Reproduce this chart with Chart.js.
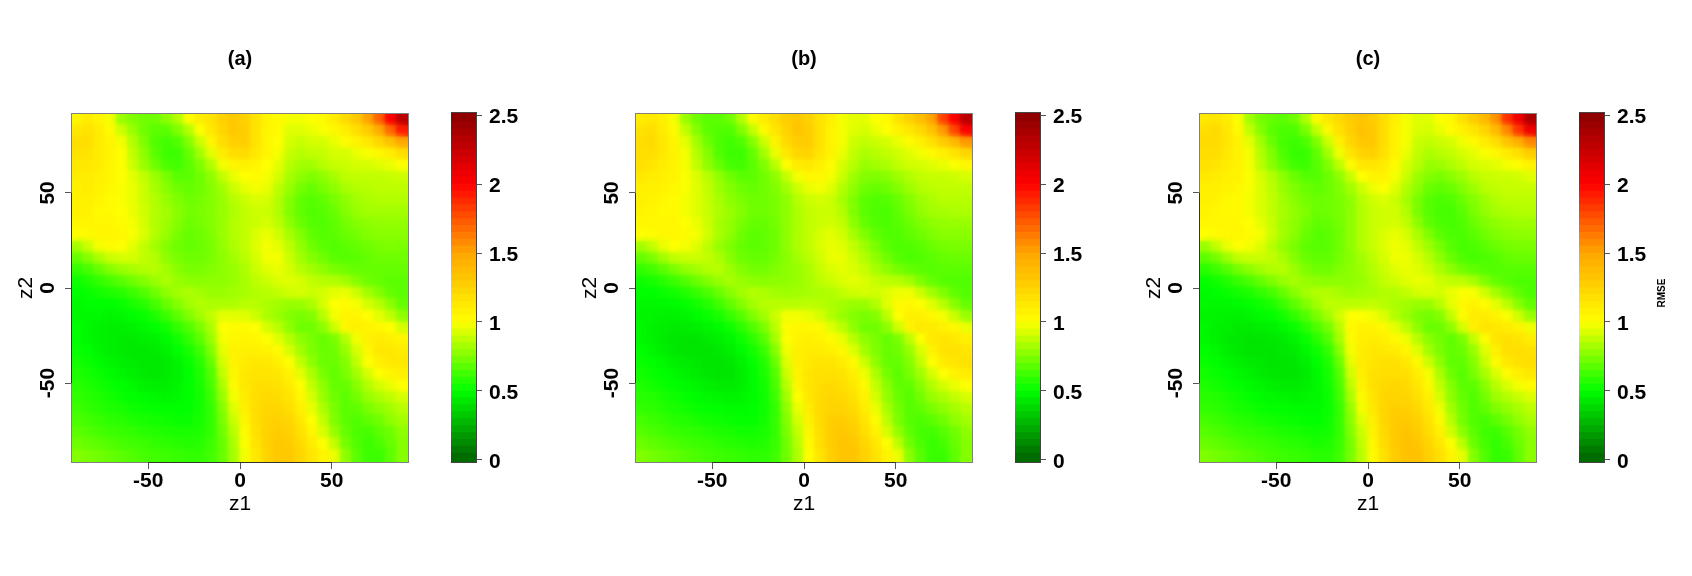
<!DOCTYPE html>
<html><head><meta charset="utf-8">
<script src="https://cdn.jsdelivr.net/npm/chart.js@4"></script>
<style>html,body{margin:0;padding:0;background:#fff;width:1692px;height:576px;overflow:hidden}canvas{position:absolute;top:0}</style>
</head><body>
<script>
const zCenters=[-88.45,-82.35,-76.25,-70.15,-64.05,-57.95,-51.85,-45.75,-39.65,-33.55,-27.45,-21.35,-15.25,-9.15,-3.05,3.05,9.15,15.25,21.35,27.45,33.55,39.65,45.75,51.85,57.95,64.05,70.15,76.25,82.35,88.45];
const tickValues=[-50,0,50];
const barTicks=[0,0.5,1,1.5,2,2.5];
const barTops=[0.05,0.1,0.15,0.2,0.25,0.3,0.35,0.4,0.45,0.5,0.55,0.6,0.65,0.7,0.75,0.8,0.85,0.9,0.95,1,1.05,1.1,1.15,1.2,1.25,1.3,1.35,1.4,1.45,1.5,1.55,1.6,1.65,1.7,1.75,1.8,1.85,1.9,1.95,2,2.05,2.1,2.15,2.2,2.25,2.3,2.35,2.4,2.45,2.52];
// RMSE x 100, top row (z2 = +88) first, z1 from left to right
const rmseA=[
[105,110,105,98,80,75,72,72,78,85,100,110,115,125,130,125,115,105,102,98,98,100,102,110,120,130,150,170,200,230],
[112,115,110,102,90,80,72,68,68,75,85,100,112,122,130,128,115,105,102,94,94,96,99,104,109,118,128,145,168,192],
[118,118,110,105,98,85,75,66,63,66,76,90,105,118,126,126,115,105,100,92,89,92,92,96,101,106,112,122,133,148],
[115,115,110,105,100,88,78,68,62,62,70,82,95,110,118,120,112,105,98,89,86,88,89,92,92,96,99,104,109,118],
[112,112,110,105,100,90,80,72,65,63,68,75,85,98,105,108,105,100,95,86,82,82,86,89,90,92,92,94,96,100],
[110,110,108,105,100,95,88,81,74,68,68,72,78,88,96,100,102,98,92,83,78,75,78,83,87,88,88,88,89,90],
[108,110,106,104,99,96,90,83,77,72,70,72,76,82,90,95,98,96,87,80,73,70,74,78,83,85,86,87,87,87],
[108,108,105,102,99,96,90,85,80,75,72,73,76,80,86,90,93,92,85,76,69,67,69,74,78,82,84,85,85,85],
[108,106,103,102,100,96,91,85,82,77,73,74,76,80,84,88,90,90,85,75,69,66,67,71,76,80,82,82,82,82],
[105,105,104,104,102,98,92,85,81,76,72,73,76,80,85,88,90,92,87,78,71,67,66,69,73,76,78,79,79,79],
[100,103,105,105,104,99,93,85,80,74,70,72,75,80,85,88,93,96,91,83,76,69,67,68,71,73,76,77,77,77],
[82,90,98,102,100,95,88,82,76,72,70,71,74,79,84,88,94,98,95,87,79,72,68,66,68,70,72,74,75,74],
[70,76,84,90,92,92,88,85,78,74,72,72,74,78,82,86,92,98,98,90,82,76,72,68,67,68,70,72,72,72],
[60,64,70,76,80,83,85,86,82,77,74,74,76,78,80,84,90,94,96,92,86,82,78,74,72,70,70,70,70,70],
[53,56,60,64,68,72,76,80,84,80,78,77,78,78,80,83,87,90,93,94,92,88,86,85,82,76,72,70,68,68],
[50,52,54,56,58,62,66,72,78,82,84,82,80,80,82,83,85,86,88,91,92,90,92,95,96,90,82,76,70,68],
[48,50,50,50,52,55,58,64,70,76,82,85,84,84,84,86,86,84,82,80,80,84,92,100,102,98,92,86,78,70],
[48,48,48,47,48,50,52,56,62,68,75,82,88,95,95,94,90,84,80,76,74,76,86,98,105,105,100,95,88,78],
[50,48,46,45,45,46,48,50,54,60,66,74,84,100,102,102,100,92,86,78,72,72,78,90,104,108,106,104,100,92],
[50,48,46,45,44,44,45,46,49,54,60,68,80,98,104,105,104,100,94,86,78,74,70,74,85,98,108,110,108,105],
[52,50,47,45,44,43,43,44,46,50,55,62,75,95,106,108,108,106,102,92,82,75,71,72,80,92,104,112,112,110],
[54,52,49,47,45,44,43,43,44,47,52,58,70,92,106,110,112,112,108,100,88,78,71,71,76,88,100,108,112,112],
[56,54,52,49,47,45,44,43,44,46,50,56,66,88,105,112,114,114,113,106,95,84,74,69,74,82,92,100,105,108],
[58,56,54,52,50,48,46,45,45,47,50,55,64,84,102,112,116,118,116,110,100,88,78,70,70,77,85,92,96,100],
[60,58,56,54,52,50,49,48,47,48,50,54,62,80,98,110,118,120,119,114,104,92,80,72,68,73,80,84,88,92],
[62,60,58,56,55,53,52,51,50,50,51,54,60,76,94,108,118,122,122,118,108,96,84,74,68,69,74,78,82,86],
[65,63,61,59,58,56,55,54,53,52,52,55,60,74,90,105,118,124,125,122,112,100,88,75,68,66,69,72,78,82],
[68,66,64,62,61,60,58,57,56,55,55,56,60,72,86,102,116,125,128,125,116,105,93,80,70,65,64,68,72,78],
[72,70,68,66,64,63,62,60,59,58,57,58,62,70,84,100,115,125,130,128,120,110,100,88,73,66,62,65,70,76],
[76,74,72,70,68,66,64,63,62,61,60,60,63,70,82,98,112,124,130,130,123,114,106,96,78,68,62,62,68,76]];
const rmseB=[
[110,112,108,98,80,72,68,68,72,85,102,110,118,127,130,125,115,108,98,95,95,100,103,115,125,135,150,180,200,230],
[115,118,110,102,88,76,68,66,66,75,88,102,114,124,132,128,116,106,98,94,92,96,100,106,112,121,133,153,178,202],
[118,120,112,105,95,82,72,65,63,66,76,90,106,120,128,128,116,106,98,90,88,90,92,96,102,108,116,128,138,153],
[118,118,112,106,98,85,76,66,62,62,70,82,96,112,122,124,114,106,96,88,84,86,88,91,94,98,102,108,114,123],
[116,114,110,106,98,88,78,70,64,63,68,75,86,100,110,112,108,102,92,86,80,82,84,88,91,92,94,96,99,104],
[112,110,108,106,99,93,86,79,72,68,68,72,78,88,98,104,104,98,90,81,76,75,77,81,85,88,89,89,90,92],
[108,108,106,104,99,94,88,81,76,72,70,72,75,82,90,96,98,94,85,78,72,70,72,76,81,85,87,88,88,88],
[108,106,104,102,98,94,89,83,78,74,72,72,74,78,86,90,92,90,83,75,68,66,67,71,76,81,84,86,86,86],
[106,104,103,102,98,94,89,84,80,76,72,72,74,78,84,88,90,90,85,75,68,65,65,69,74,79,82,83,84,84],
[104,104,104,104,100,96,90,83,79,74,70,70,73,78,84,88,90,91,88,78,70,66,65,67,71,75,78,79,80,80],
[100,102,104,104,102,98,91,83,78,72,68,69,72,78,84,88,92,95,91,83,75,69,66,66,69,72,75,77,77,77],
[82,88,96,100,98,94,87,80,75,70,68,69,72,78,84,88,93,96,94,88,81,74,68,65,66,68,71,73,74,74],
[70,74,82,88,90,90,88,84,77,72,70,70,73,77,82,86,91,96,96,91,85,78,72,67,65,66,68,70,71,71],
[60,63,68,74,79,82,85,86,81,76,73,73,75,78,80,84,89,93,95,93,89,83,78,73,70,68,67,68,68,68],
[53,55,58,62,66,71,76,80,83,80,78,77,78,78,80,83,87,90,93,95,93,89,87,86,82,75,70,67,66,66],
[50,50,52,54,57,61,65,71,77,82,85,84,82,81,82,83,84,85,88,91,92,91,94,97,97,90,82,75,69,66],
[48,48,48,49,51,54,57,63,69,76,82,86,86,86,86,87,86,84,82,80,80,85,94,103,104,100,94,86,77,70],
[47,47,46,46,47,49,52,55,61,67,75,82,90,98,98,96,92,85,80,76,74,76,87,100,108,108,104,98,90,80],
[48,46,45,44,44,45,47,49,53,59,66,74,86,102,104,104,102,94,87,78,72,72,78,91,106,112,110,108,104,96],
[48,46,44,43,42,42,44,45,48,53,59,67,82,100,106,108,106,102,96,86,78,74,70,74,87,100,112,114,112,108],
[50,48,45,43,42,42,42,43,45,49,54,61,76,97,108,110,110,108,104,94,82,75,70,72,80,93,106,115,116,114],
[52,50,48,45,44,43,42,42,43,46,51,57,70,94,108,112,114,114,110,102,90,78,70,70,76,88,100,110,114,116],
[54,52,50,48,46,44,43,42,42,45,49,55,66,90,106,114,116,116,115,108,97,84,73,68,74,82,92,100,106,110],
[56,54,52,50,48,47,45,44,44,45,49,54,64,86,104,114,118,120,118,112,102,88,77,69,69,77,85,92,96,100],
[58,57,55,53,51,49,48,47,46,47,49,53,62,82,100,112,120,122,121,116,106,92,79,71,67,73,80,84,88,92],
[60,59,57,55,54,52,51,50,49,49,50,53,60,78,96,110,120,124,124,120,110,96,83,73,67,69,74,78,82,86],
[64,62,60,58,57,55,54,53,52,51,51,54,60,76,92,107,120,126,127,124,114,101,87,74,67,65,68,72,78,82],
[67,65,63,61,60,59,57,56,55,54,54,55,60,74,88,104,118,127,130,127,118,106,92,79,69,64,63,67,72,78],
[71,69,67,65,63,62,61,59,58,57,56,57,61,72,86,102,117,127,132,130,122,112,100,87,72,65,61,64,70,76],
[75,73,71,69,67,65,63,62,61,60,59,59,62,72,84,100,114,126,132,132,125,116,106,96,77,67,61,61,68,76]];
const rmseC=[
[112,114,110,99,82,73,70,68,72,84,103,112,120,128,132,127,117,108,98,94,94,100,104,116,127,138,155,185,205,235],
[118,120,112,103,88,76,68,65,65,74,88,103,116,126,134,130,118,106,98,93,92,96,101,107,114,123,137,158,183,207],
[120,120,114,106,95,82,71,64,62,65,75,90,107,122,130,130,118,106,98,90,88,90,92,97,103,110,118,132,143,158],
[118,118,112,106,98,85,75,65,61,61,69,82,97,114,124,126,116,106,96,88,84,86,88,92,95,99,104,110,118,127],
[116,114,110,106,98,87,77,69,63,62,67,75,87,102,112,114,110,102,92,86,80,81,84,88,92,93,95,98,101,107],
[112,110,108,106,99,92,85,78,71,67,67,71,78,89,100,106,106,98,90,81,76,74,77,81,86,89,90,90,91,94],
[108,108,106,104,99,93,87,80,75,71,69,71,75,82,90,97,100,94,85,78,71,69,71,76,81,86,88,89,89,89],
[108,106,104,102,98,93,88,82,77,73,71,72,74,78,86,91,93,90,83,74,67,65,66,71,76,81,85,87,87,87],
[106,104,103,102,98,93,88,83,79,75,71,72,74,78,85,89,91,91,85,74,67,64,64,68,74,79,83,84,85,85],
[104,104,104,104,100,95,89,82,78,73,69,70,73,78,85,89,91,92,88,78,69,65,64,66,71,75,78,80,81,81],
[100,102,104,104,102,98,90,82,77,71,67,68,72,78,85,89,93,96,92,84,75,68,65,65,68,72,75,77,78,78],
[80,88,96,100,98,94,86,79,74,69,67,68,72,78,85,89,94,97,95,88,81,74,67,64,65,68,71,73,74,74],
[68,73,81,88,90,90,88,83,76,71,69,69,73,77,82,87,92,97,97,92,86,78,71,66,64,65,67,70,71,71],
[58,62,67,73,78,82,85,86,81,75,72,72,75,78,81,85,90,94,96,94,90,84,78,72,69,67,66,67,67,67],
[51,54,57,61,65,70,75,80,83,80,78,77,78,78,80,84,88,91,94,96,95,90,88,87,83,75,70,67,65,65],
[49,50,52,54,56,60,64,70,77,82,85,85,83,81,82,83,85,85,88,92,93,92,96,99,99,91,82,75,69,65],
[48,48,48,49,51,53,56,62,68,75,82,87,87,87,87,88,86,84,82,80,80,86,95,104,106,102,95,87,77,69],
[47,47,46,46,47,49,51,54,60,66,74,82,91,100,100,98,93,85,80,75,73,76,88,102,110,110,106,99,91,80],
[48,46,45,44,44,45,46,48,52,58,65,73,86,103,106,106,103,95,87,78,71,71,78,92,108,114,112,110,106,97],
[48,46,44,43,42,42,43,44,47,52,58,66,82,102,108,110,108,103,97,86,77,73,69,74,88,101,114,116,114,110],
[50,48,45,43,42,42,42,43,44,48,53,60,76,98,110,112,112,110,105,94,82,74,69,71,80,94,108,117,118,116],
[52,50,47,45,44,43,42,42,43,45,50,56,70,95,110,114,116,116,112,103,90,78,69,69,76,89,102,112,116,118],
[54,52,50,48,46,44,43,42,42,44,48,54,66,91,108,116,118,118,117,109,98,84,72,67,74,83,93,102,108,112],
[56,54,52,50,48,47,45,44,44,45,48,53,64,87,106,116,120,122,120,113,103,88,76,68,68,77,86,93,98,102],
[58,57,55,53,51,49,48,47,46,47,48,52,62,83,102,114,122,124,123,117,107,92,78,70,66,73,81,85,89,93],
[60,59,57,55,54,52,51,50,49,49,49,52,60,79,98,112,122,126,126,121,111,97,82,72,66,69,75,79,83,87],
[64,62,60,58,57,55,54,53,52,51,50,53,60,77,94,109,122,128,129,125,115,102,86,73,66,64,68,73,79,83],
[67,65,63,61,60,59,57,56,55,54,53,54,60,75,90,106,120,129,132,128,119,107,91,78,68,63,62,67,73,79],
[71,69,67,65,63,62,61,59,58,57,55,56,61,73,88,104,119,129,134,131,123,113,100,86,71,64,60,64,71,77],
[75,73,71,69,67,65,63,62,61,60,58,58,62,73,86,102,116,128,134,134,126,117,106,95,76,66,60,61,69,77]];
const panelTitles=['(a)','(b)','(c)'];
const panelTables=[rmseA,rmseB,rmseC];
const panelLefts=[72,636,1200];

const stops=[[0,[0,100,0]],[0.5,[0,255,0]],[1,[255,255,0]],[1.5,[255,165,0]],[2,[255,0,0]],[2.5,[139,0,0]]];
function colourOf(v){
  v=Math.max(0,Math.min(2.5,v));
  for(let i=1;i<stops.length;i++){ if(v<=stops[i][0]){
    const a=stops[i-1],b=stops[i],t=(v-a[0])/(b[0]-a[0]);
    return 'rgb('+a[1].map((c,k)=>Math.round(c+(b[1][k]-c)*t)).join(',')+')';
  }}
  return 'rgb(139,0,0)';
}
const labelFont={family:'"Liberation Sans",Arial,sans-serif',size:21,weight:'bold'};
const titleFont={family:'"Liberation Sans",Arial,sans-serif',size:20,weight:'bold'};
const plainFont={family:'"Liberation Sans",Arial,sans-serif',size:21,weight:'normal'};
const soften={id:'soften',
  beforeDatasetDraw(chart,args){ if(args.index===0) chart.ctx.filter='blur(3px)'; },
  afterDatasetDraw(chart,args){ if(args.index===0) chart.ctx.filter='none'; }};
const frame={id:'frame',afterDraw(chart,args,o){
  const a=chart.chartArea,c=chart.ctx;c.save();c.lineWidth=1;c.strokeStyle=o.color;
  c.strokeRect(a.left-0.5,a.top-0.5,a.right-a.left+1,a.bottom-a.top+1);
  c.strokeStyle='#333';c.beginPath();
  if(o.axes){
    const x=chart.scales.x,y=chart.scales.y;
    c.moveTo(x.getPixelForValue(tickValues[0]),a.bottom+0.5);c.lineTo(x.getPixelForValue(tickValues[2]),a.bottom+0.5);
    c.moveTo(a.left-0.5,y.getPixelForValue(tickValues[0]));c.lineTo(a.left-0.5,y.getPixelForValue(tickValues[2]));
  }
  c.stroke();c.restore();
}};
const rmseText={id:'rmseText',afterDraw(chart,args,o){
  if(!o.show)return;const c=chart.ctx;c.save();c.translate(chart.chartArea.right+58,293);c.rotate(-Math.PI/2);
  c.font='bold 10px "Liberation Sans",Arial,sans-serif';c.fillStyle='#000';c.textAlign='center';c.textBaseline='middle';c.fillText('RMSE',0,0);c.restore();
}};
function setTicks(list){return s=>{s.ticks=list.map(v=>({value:v}));};}

panelLefts.forEach((left,p)=>{
  const cv=document.createElement('canvas');
  cv.style.left=(left-72)+'px';cv.style.width='480px';cv.style.height='576px';cv.width=480;cv.height=576;
  document.body.appendChild(cv);
  const pts=[];
  panelTables[p].forEach((row,r)=>row.forEach((v,k)=>pts.push({x:zCenters[k],y:zCenters[zCenters.length-1-r],v:v/100})));
  const cellStyle={data:pts,pointStyle:'rect',borderWidth:0,pointBorderWidth:0,
      pointBackgroundColor:c=>colourOf(c.raw.v),
      pointRadius:c=>{const ar=c.chart.chartArea;return ar?Math.ceil((ar.bottom-ar.top)/30+0.6)/Math.SQRT2:8;}};
  new Chart(cv,{type:'scatter',plugins:[soften,frame],
    data:{datasets:[Object.assign({label:panelTitles[p]+' soft'},cellStyle),Object.assign({label:panelTitles[p]},cellStyle)]},
    options:{responsive:false,animation:false,devicePixelRatio:1,
      layout:{padding:{top:47,right:72,left:0,bottom:0}},
      events:[],
      plugins:{legend:{display:false},tooltip:{enabled:false},
        frame:{color:'#808080',axes:true},
        title:{display:true,fullSize:false,text:panelTitles[p],color:'#000',font:titleFont,padding:{top:0,bottom:43}}},
      scales:{
        x:{type:'linear',min:-91.5,max:91.5,afterBuildTicks:setTicks(tickValues),afterFit:s=>{s.height=114;},
          grid:{drawOnChartArea:false,drawTicks:true,tickLength:7,color:'#555'},border:{display:false},
          ticks:{color:'#000',font:labelFont,padding:0,autoSkip:false,maxRotation:0,minRotation:0,callback:v=>String(v)},
          title:{display:true,text:'z1',color:'#000',font:plainFont,padding:{top:0,bottom:59}}},
        y:{type:'linear',min:-91.5,max:91.5,afterBuildTicks:setTicks(tickValues),afterFit:s=>{s.width=72;},
          grid:{drawOnChartArea:false,drawTicks:true,tickLength:7,color:'#555'},border:{display:false},
          ticks:{color:'#000',font:labelFont,padding:2,autoSkip:false,minRotation:90,maxRotation:90,crossAlign:'center',callback:v=>String(v)},
          title:{display:true,text:'z2',color:'#000',font:plainFont,padding:{top:14,bottom:0}}}
      }}});

  const cb=document.createElement('canvas');
  cb.style.left=(left+379)+'px';cb.style.width='113px';cb.style.height='576px';cb.width=113;cb.height=576;
  document.body.appendChild(cb);
  new Chart(cb,{type:'bar',plugins:[frame,rmseText],
    data:{labels:['RMSE'],datasets:barTops.map(t=>({data:[[-0.02,t]],backgroundColor:colourOf(Math.min(t,2.5)-0.025),borderWidth:0,grouped:false,barPercentage:1,categoryPercentage:1}))},
    options:{responsive:false,animation:false,devicePixelRatio:1,events:[],
      layout:{padding:{top:113,bottom:114,left:0,right:0}},
      plugins:{legend:{display:false},tooltip:{enabled:false},frame:{color:'#444',axes:false},rmseText:{show:p===2}},
      scales:{
        x:{display:false},
        y:{position:'right',type:'linear',min:-0.0145,max:2.5145,afterBuildTicks:setTicks(barTicks),afterFit:s=>{s.width=88;},
          grid:{drawOnChartArea:false,drawTicks:true,tickLength:6,color:'#555'},border:{display:false},
          ticks:{color:'#000',font:labelFont,padding:7,labelOffset:2,autoSkip:false,callback:v=>String(v)}}
      }}});
});
</script>
</body></html>
